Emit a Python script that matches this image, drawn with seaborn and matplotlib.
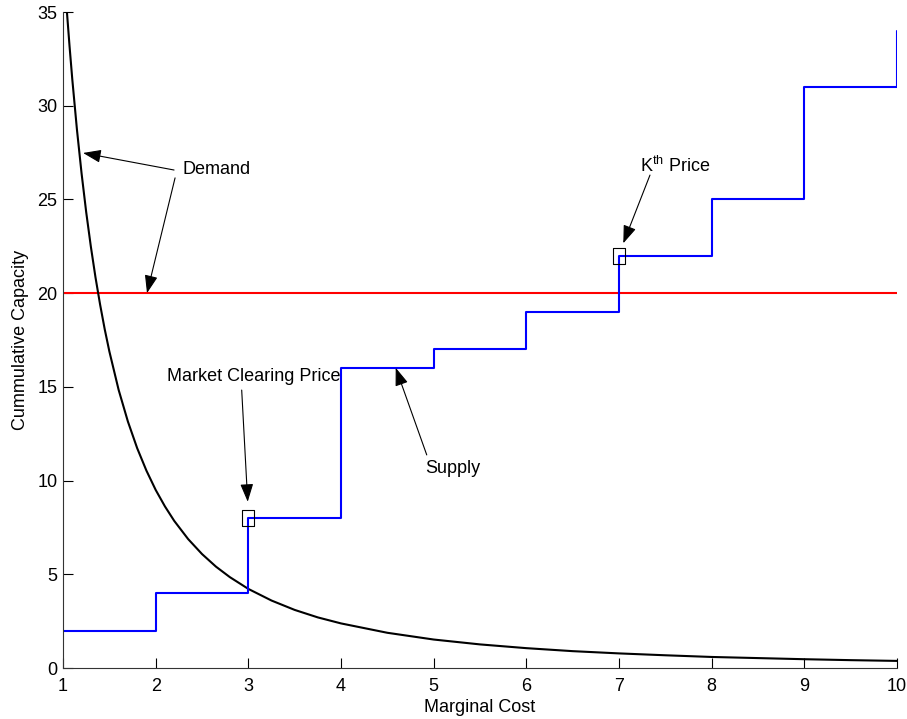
import numpy as np
import pandas as pd
import seaborn as sns
import matplotlib.pyplot as plt

# demand curve
demand_x = [1.04, 1.07, 1.1, 1.15, 1.2, 1.25, 1.3, 1.35, 1.4, 1.45, 1.5, 1.6, 1.7,
            1.8, 1.9, 2.0, 2.1, 2.2, 2.35, 2.5, 2.65, 2.8, 3.0, 3.25, 3.5, 3.75,
            4.0, 4.5, 5.0, 5.5, 6.0, 6.5, 7.0, 7.5, 8.0, 8.5, 9.0, 9.5, 10.0]
demand_y = [35.13, 33.19, 31.4, 28.73, 26.39, 24.32, 22.49, 20.85, 19.39, 18.07,
            16.89, 14.84, 13.15, 11.73, 10.53, 9.5, 8.62, 7.85, 6.88, 6.08, 5.41,
            4.85, 4.22, 3.6, 3.1, 2.7, 2.38, 1.88, 1.52, 1.26, 1.06, 0.9, 0.78,
            0.68, 0.59, 0.53, 0.47, 0.42, 0.38]

# supply steps
supply_x = [1, 2, 3, 4, 5, 6, 7, 8, 9, 10]
supply_y = [2, 4, 8, 16, 17, 19, 22, 25, 31, 34]

# fixed demand level
level_x = [1, 10]
level_y = [20, 20]

# highlighted prices
mark_x = [3, 7]
mark_y = [8, 22]

sns.set_style("ticks")
plt.rcParams['font.family'] = ['Liberation Sans', 'DejaVu Sans']
plt.rcParams['text.color'] = 'black'
plt.rcParams['axes.labelcolor'] = 'black'
plt.rcParams['xtick.color'] = 'black'
plt.rcParams['ytick.color'] = 'black'

fig = plt.figure(figsize=(9.07, 7.19), dpi=100)
ax = fig.add_axes([0.0695, 0.0709, 0.9195, 0.9124])

df_demand = pd.DataFrame({'x': demand_x, 'y': demand_y})
df_supply = pd.DataFrame({'x': supply_x, 'y': supply_y})
df_level = pd.DataFrame({'x': level_x, 'y': level_y})

sns.lineplot(data=df_level, x='x', y='y', color='red', lw=1.5, sort=False, ax=ax)
sns.lineplot(data=df_demand, x='x', y='y', color='black', lw=1.5, sort=False, ax=ax)
sns.lineplot(data=df_supply, x='x', y='y', color='blue', lw=1.5, sort=False,
             drawstyle='steps-post', ax=ax)

# tall rectangular markers around the two price points
rect = [(-0.36, -0.5), (0.36, -0.5), (0.36, 0.5), (-0.36, 0.5), (-0.36, -0.5)]
ax.plot(mark_x, mark_y, linestyle='none', marker=rect, markersize=11.5,
        markerfacecolor='none', markeredgecolor='black', markeredgewidth=0.8)

ax.set_xlim(1, 10)
ax.set_ylim(0, 35)
ax.set_xticks(range(1, 11))
ax.set_yticks(range(0, 36, 5))
ax.tick_params(direction='in', length=7, width=0.8, labelsize=13, colors='black')
ax.tick_params(axis='x', pad=7)
ax.tick_params(axis='y', pad=4)
for s in ['top', 'right']:
    ax.spines[s].set_visible(False)
for s in ['left', 'bottom']:
    ax.spines[s].set_color('#333333')
    ax.spines[s].set_linewidth(0.8)

ax.set_xlabel('Marginal Cost', fontsize=13, labelpad=3)
ax.set_ylabel('Cummulative Capacity', fontsize=13, labelpad=6)

arrow = dict(arrowstyle='-|>,head_length=0.55,head_width=0.2', color='black',
             lw=0.8, mutation_scale=20, shrinkA=0, shrinkB=0)

ax.text(2.284, 26.6, 'Demand', fontsize=13, va='center', ha='left')
ax.annotate('', xy=(1.216, 27.48), xytext=(2.198, 26.57), arrowprops=arrow)
ax.annotate('', xy=(1.906, 20.0), xytext=(2.209, 26.15), arrowprops=arrow)

ax.text(2.122, 15.53, 'Market Clearing Price', fontsize=13, va='center', ha='left')
ax.annotate('', xy=(2.993, 8.87), xytext=(2.928, 14.83), arrowprops=arrow)

ax.text(4.906, 10.67, 'Supply', fontsize=13, va='center', ha='left')
ax.annotate('', xy=(4.59, 16.02), xytext=(4.925, 11.37), arrowprops=arrow)

ax.text(7.226, 26.8, r'K$^{\mathregular{th}}$ Price', fontsize=13, va='center', ha='left')
ax.annotate('', xy=(7.046, 22.66), xytext=(7.334, 26.3), arrowprops=arrow)

fig.savefig('out.png', dpi=100)
